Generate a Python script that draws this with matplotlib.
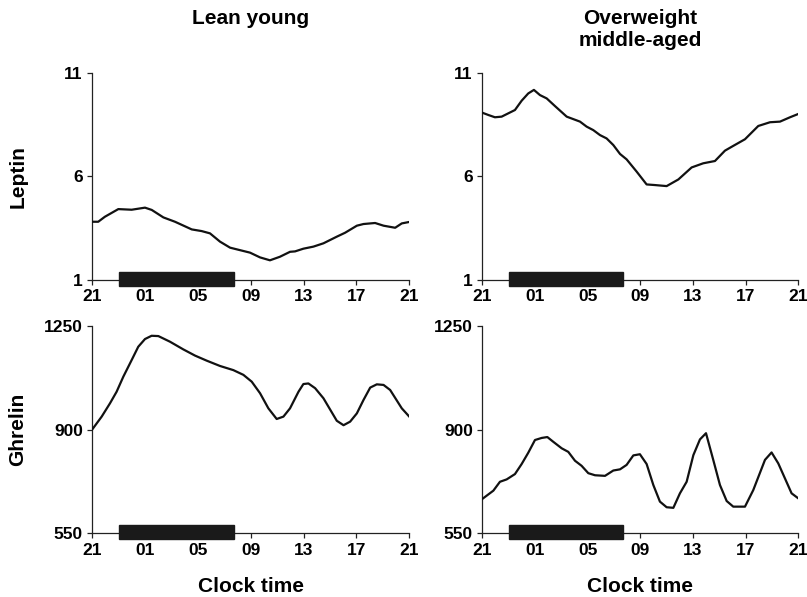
import matplotlib
matplotlib.use("Agg")
import matplotlib.pyplot as plt
from matplotlib.patches import Rectangle
import matplotlib.transforms as mtransforms

plt.rcParams['font.family'] = ['Liberation Sans', 'DejaVu Sans']
plt.rcParams['font.weight'] = 'bold'

# ---- data (x = hours after 21:00) ----
lean_leptin_x = [0, 0.45, 0.95, 1.97, 2.98, 3.99, 4.5, 5.38, 6.26, 7.53, 8.28, 8.91, 9.67, 10.43, 10.93,
                 11.94, 12.7, 13.45, 14.2, 14.97, 15.35, 15.98, 16.74, 17.5, 18.51, 19.14, 20.03, 20.53,
                 21.41, 22.05, 22.93, 23.43, 24.0]
lean_leptin_y = [3.81, 3.81, 4.05, 4.42, 4.39, 4.49, 4.38, 4.02, 3.81, 3.44, 3.36, 3.25, 2.85, 2.56, 2.48,
                 2.32, 2.09, 1.95, 2.12, 2.36, 2.38, 2.51, 2.61, 2.77, 3.09, 3.28, 3.62, 3.70,
                 3.75, 3.62, 3.52, 3.73, 3.80]

ow_leptin_x = [0, 0.46, 0.96, 1.47, 2.48, 2.99, 3.49, 3.92, 4.38, 4.89, 5.52, 6.41, 7.42, 7.92, 8.43,
               8.94, 9.44, 9.95, 10.46, 10.96, 11.72, 12.48, 13.11, 14.0, 14.89, 15.9, 16.78, 17.67,
               18.43, 19.06, 19.95, 20.96, 21.85, 22.61, 23.37, 24.0]
ow_leptin_y = [9.07, 8.96, 8.85, 8.88, 9.20, 9.65, 10.0, 10.17, 9.92, 9.76, 9.39, 8.88, 8.64, 8.40, 8.23,
               7.99, 7.83, 7.51, 7.08, 6.82, 6.23, 5.61, 5.58, 5.53, 5.85, 6.43, 6.63, 6.74,
               7.24, 7.47, 7.79, 8.43, 8.61, 8.64, 8.85, 9.01]

lean_ghrelin_x = [0, 0.71, 1.34, 1.84, 2.35, 2.98, 3.48, 3.99, 4.49, 5.0, 5.88, 6.89, 7.78, 8.66, 9.67,
                  10.68, 11.44, 12.07, 12.7, 13.33, 13.96, 14.47, 14.97, 15.61, 15.98, 16.36, 16.87,
                  17.5, 18.51, 19.02, 19.52, 20.03, 20.53, 21.04, 21.54, 22.05, 22.55, 23.43, 24.0]
lean_ghrelin_y = [901, 944, 989, 1028, 1079, 1135, 1180, 1206, 1217, 1216, 1197, 1171, 1150, 1133, 1115,
                  1101, 1085, 1062, 1023, 972, 936, 944, 972, 1028, 1054, 1056, 1040,
                  1006, 930, 915, 927, 955, 1000, 1042, 1053, 1051, 1034, 972, 944]

ow_ghrelin_x = [0, 0.84, 1.34, 1.85, 2.48, 2.99, 3.49, 4.0, 4.51, 4.94, 5.39, 6.03, 6.53, 7.04, 7.54,
                8.05, 8.56, 9.32, 9.95, 10.46, 10.96, 11.47, 11.97, 12.48, 12.99, 13.49, 14.0, 14.51,
                15.01, 15.52, 16.03, 16.53, 16.99, 17.54, 18.05, 18.56, 19.06, 19.95, 20.58, 21.47,
                21.97, 22.48, 23.49, 24.0]
ow_ghrelin_y = [666, 694, 724, 732, 750, 784, 822, 865, 872, 875, 859, 837, 825, 795, 778,
                753, 746, 744, 762, 766, 781, 813, 817, 784, 713, 657, 638, 636,
                685, 724, 814, 867, 888, 798, 713, 659, 640, 640, 696, 798,
                823, 786, 685, 668]

tick_pos = [0, 4, 8, 12, 16, 20, 24]
tick_labels = ['21', '01', '05', '09', '13', '17', '21']
leptin_ticks = [1, 6, 11]
ghrelin_ticks = [550, 900, 1250]
night_start, night_end = 2.0, 10.7   # hours after 21:00 (23:00 - ~07:40)

col_titles = ['Lean young', 'Overweight\nmiddle-aged']
row_labels = ['Leptin', 'Ghrelin']

W, H = 807, 597
fig = plt.figure(figsize=(W / 100, H / 100), dpi=100)

def px_axes(left, top, right, bottom):
    return fig.add_axes([left / W, 1 - bottom / H, (right - left) / W, (bottom - top) / H])

axes = [[px_axes(92.3, 72.7, 409.3, 280.0), px_axes(482.3, 72.7, 798.3, 280.0)],
        [px_axes(92.3, 326.0, 409.3, 533.3), px_axes(482.3, 326.0, 798.3, 533.3)]]

series = [[(lean_leptin_x, lean_leptin_y), (ow_leptin_x, ow_leptin_y)],
          [(lean_ghrelin_x, lean_ghrelin_y), (ow_ghrelin_x, ow_ghrelin_y)]]
yticks = [leptin_ticks, ghrelin_ticks]

for r in range(2):
    for c in range(2):
        ax = axes[r][c]
        x, y = series[r][c]
        ax.plot(x, y, color='#111111', lw=1.6, solid_joinstyle='round', zorder=3)
        ax.set_xlim(0, 24)
        ax.set_ylim(yticks[r][0], yticks[r][-1])
        ax.set_xticks(tick_pos)
        ax.set_xticklabels(tick_labels)
        ax.set_yticks(yticks[r])
        for s in ['top', 'right']:
            ax.spines[s].set_visible(False)
        for s in ['left', 'bottom']:
            ax.spines[s].set_linewidth(0.9)
            ax.spines[s].set_color('#222222')
        ax.tick_params(axis='both', direction='out', length=3.3, width=0.9, color='#222222',
                       labelsize=12.5, pad=3.5)
        ax.tick_params(axis='x', pad=3.5)
        for lab in ax.get_xticklabels() + ax.get_yticklabels():
            lab.set_fontweight('bold')
        trans = mtransforms.blended_transform_factory(ax.transData, ax.transAxes)
        ax.add_patch(Rectangle((night_start, -0.029), night_end - night_start, 0.068,
                               transform=trans, color='#1a1a1a', clip_on=False, zorder=4))

# column titles
for c, t in enumerate(col_titles):
    ax = axes[0][c]
    pos = ax.get_position()
    fig.text(pos.x0 + pos.width / 2, 1 - 9 / H, t, ha='center', va='top', fontsize=15,
             fontweight='bold', linespacing=1.2)

# row labels
for r, t in enumerate(row_labels):
    pos = axes[r][0].get_position()
    fig.text(18 / W, pos.y0 + pos.height / 2, t, rotation=90, ha='center', va='center',
             fontsize=15, fontweight='bold')

# x labels
for c in range(2):
    pos = axes[1][c].get_position()
    fig.text(pos.x0 + pos.width / 2, 1 - 592 / H, 'Clock time', ha='center', va='baseline',
             fontsize=15, fontweight='bold')

fig.savefig('out.png', dpi=100, facecolor='white')
